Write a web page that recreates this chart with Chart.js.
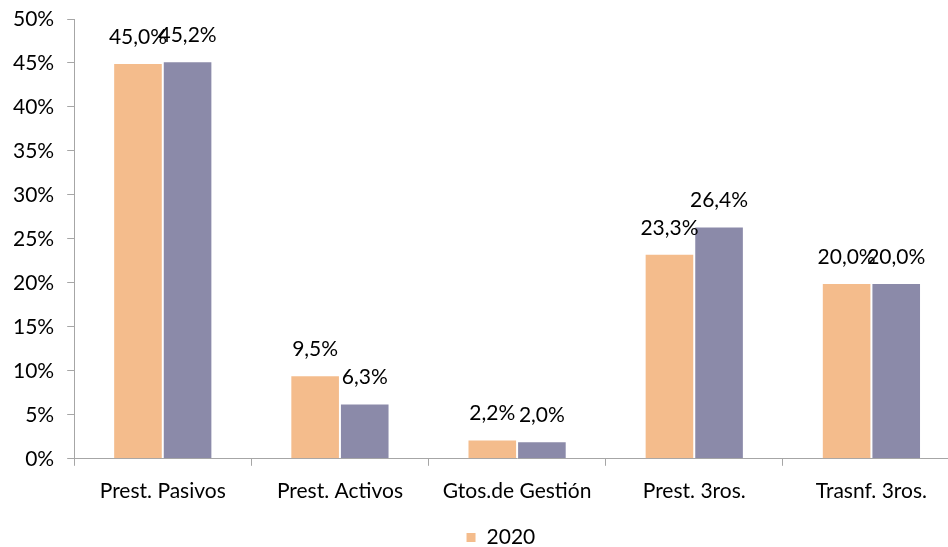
<!DOCTYPE html>
<html>
<head>
<meta charset="utf-8">
<script src="https://cdn.jsdelivr.net/npm/chart.js@4"></script>
<style>
  html, body { margin: 0; padding: 0; background: #fff; overflow: hidden; }
  #wrap { width: 960px; height: 547px; }
</style>
</head>
<body>
<div id="wrap"><canvas id="chBar"></canvas></div>
<script>
// chart data
var categories = ['Prest. Pasivos', 'Prest. Activos', 'Gtos.de Gestión', 'Prest. 3ros.', 'Trasnf. 3ros.'];
var values2020 = [45.0, 9.5, 2.2, 23.3, 20.0];
var valuesOther = [45.2, 6.3, 2.0, 26.4, 20.0];
var yTicks = [0, 5, 10, 15, 20, 25, 30, 35, 40, 45, 50];

var colors = ['#F4BC8C', '#8B8AA9'];
var axisColor = '#A6A6A6';
var font = {family: 'Lato, "Open Sans", sans-serif', size: 21};

function pct(v) {
  return v.toFixed(1).replace('.', ',') + '%';
}

// value labels above the bars
var barLabels = {
  id: 'barLabels',
  afterDatasetsDraw: function (chart) {
    var ctx = chart.ctx;
    ctx.save();
    ctx.font = font.size + 'px ' + font.family;
    ctx.fillStyle = '#000';
    ctx.textAlign = 'center';
    ctx.textBaseline = 'middle';
    chart.data.datasets.forEach(function (ds, i) {
      chart.getDatasetMeta(i).data.forEach(function (bar, j) {
        ctx.fillText(pct(ds.data[j]), bar.x, bar.y - 26);
      });
    });
    ctx.restore();
  }
};

new Chart(document.getElementById('chBar'), {
  type: 'bar',
  data: {
    labels: categories,
    datasets: [
      {label: '2020', data: values2020, backgroundColor: colors[0], borderColor: '#fff', borderWidth: 1,
       categoryPercentage: 0.56, barPercentage: 1},
      {label: '', data: valuesOther, backgroundColor: colors[1], borderColor: '#fff', borderWidth: 1,
       categoryPercentage: 0.56, barPercentage: 1}
    ]
  },
  options: {
    responsive: true,
    maintainAspectRatio: false,
    animation: false,
    layout: {padding: {top: 19, left: 0, right: 0, bottom: -11}},
    plugins: {
      legend: {
        position: 'bottom',
        reverse: true,
        labels: {
          font: font, color: '#000', boxWidth: 10, boxHeight: 10, padding: 10,
          generateLabels: function (chart) {
            // the unnamed series keeps an empty, invisible key
            return Chart.defaults.plugins.legend.labels.generateLabels(chart).map(function (item) {
              if (item.text === '') {
                item.text = '  ';
                item.fillStyle = 'rgba(0,0,0,0)';
                item.strokeStyle = 'rgba(0,0,0,0)';
              }
              return item;
            });
          }
        }
      },
      tooltip: {enabled: false}
    },
    scales: {
      x: {
        grid: {drawOnChartArea: false, color: axisColor, tickLength: 7},
        border: {color: axisColor},
        ticks: {font: font, color: '#000', padding: 13}
      },
      y: {
        min: 0, max: 50,
        afterBuildTicks: function (axis) { axis.ticks = yTicks.map(function (v) { return {value: v}; }); },
        afterFit: function (axis) { axis.paddingTop = 0; },
        grid: {drawOnChartArea: false, color: axisColor, tickLength: 7},
        border: {color: axisColor},
        ticks: {font: font, color: '#000', padding: 13, callback: function (v) { return v + '%'; }}
      }
    }
  },
  plugins: [barLabels]
});
</script>
</body>
</html>
